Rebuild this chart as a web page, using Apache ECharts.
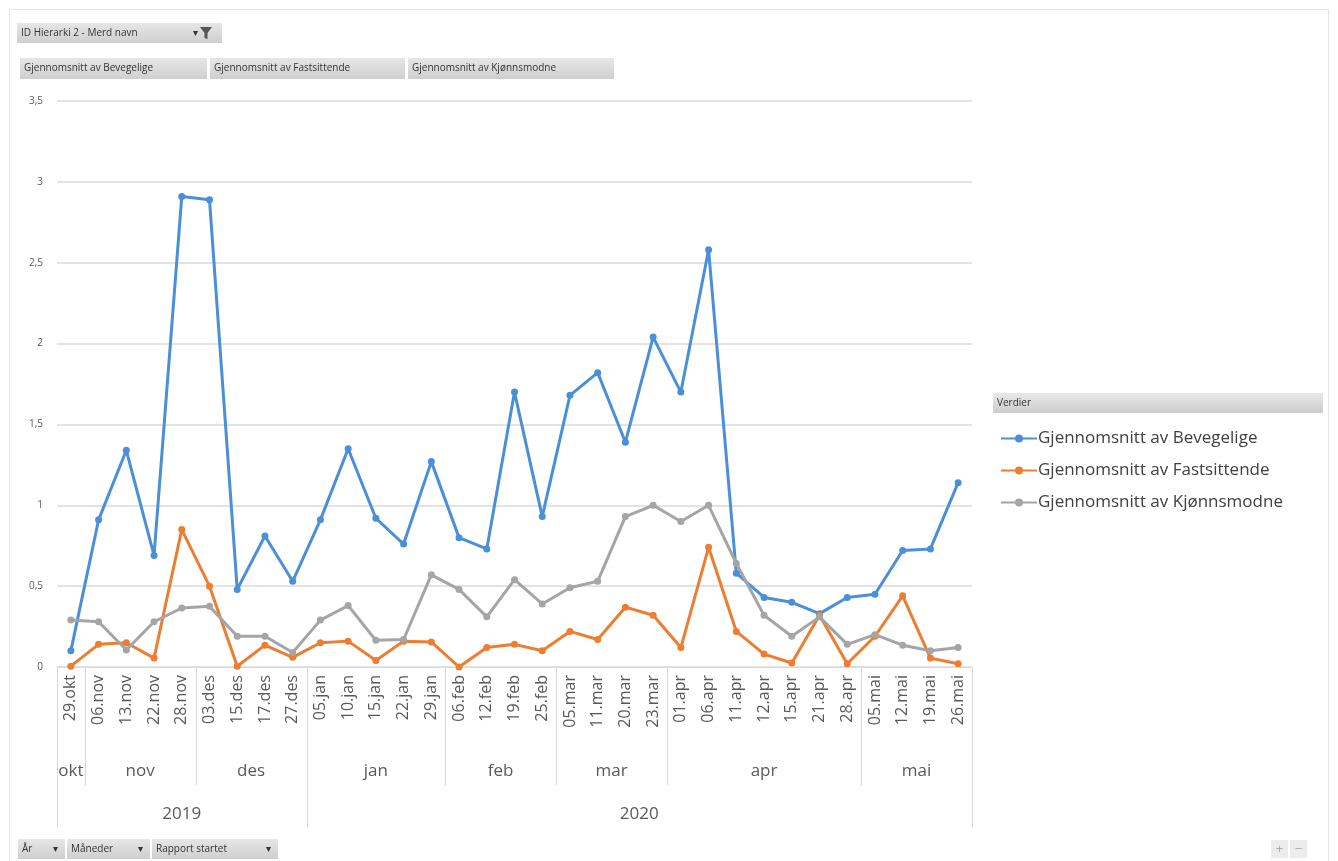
<!DOCTYPE html>
<html>
<head>
<meta charset="utf-8">
<script src="https://cdn.jsdelivr.net/npm/echarts@6/dist/echarts.min.js"></script>
<style>html,body{margin:0;padding:0;background:#fff}#c{width:1338px;height:861px}</style>
</head>
<body>
<div id="c"></div>
<script>
const categories = ['29.okt','06.nov','13.nov','22.nov','28.nov','03.des','15.des','17.des','27.des','05.jan','10.jan','15.jan','22.jan','29.jan','06.feb','12.feb','19.feb','25.feb','05.mar','11.mar','20.mar','23.mar','01.apr','06.apr','11.apr','12.apr','15.apr','21.apr','28.apr','05.mai','12.mai','19.mai','26.mai'];
const monthOfCategory = categories.map(c => c.split('.')[1]);
const monthYear = {okt:'2019', nov:'2019', des:'2019', jan:'2020', feb:'2020', mar:'2020', apr:'2020', mai:'2020'};
const yTicks = [0, 0.5, 1, 1.5, 2, 2.5, 3, 3.5];
const seriesNames = ['Gjennomsnitt av Bevegelige','Gjennomsnitt av Fastsittende','Gjennomsnitt av Kjønnsmodne'];
const bevegelige = [0.10,0.91,1.34,0.69,2.91,2.89,0.48,0.81,0.53,0.91,1.35,0.92,0.76,1.27,0.80,0.73,1.70,0.93,1.68,1.82,1.39,2.04,1.70,2.58,0.58,0.43,0.40,0.33,0.43,0.45,0.72,0.73,1.14];
const fastsittende = [0.005,0.14,0.15,0.055,0.85,0.50,0.005,0.135,0.06,0.15,0.16,0.04,0.16,0.155,0.00,0.12,0.14,0.10,0.22,0.17,0.37,0.32,0.12,0.74,0.22,0.08,0.025,0.32,0.02,0.19,0.44,0.055,0.02];
const kjonnsmodne = [0.29,0.28,0.105,0.28,0.365,0.375,0.19,0.19,0.09,0.29,0.38,0.165,0.17,0.57,0.48,0.31,0.54,0.39,0.49,0.53,0.93,1.00,0.90,1.00,0.64,0.32,0.19,0.31,0.14,0.20,0.135,0.10,0.12];
const seriesData = [bevegelige, fastsittende, kjonnsmodne];
const colors = ['#4a8fd8','#ed7d31','#a5a5a5'];
const topFields = ['Gjennomsnitt av Bevegelige','Gjennomsnitt av Fastsittende','Gjennomsnitt av Kjønnsmodne'];
const bottomFields = ['År','Måneder','Rapport startet'];

const FONT = '"Open Sans", "Noto Sans", sans-serif';
const chart = echarts.init(document.getElementById('c'), null, {renderer:'canvas'});

const option = {
  animation: false,
  backgroundColor: '#fff',
  color: colors,
  grid: {left: 57, right: 366, top: 101, bottom: 194, containLabel: false},
  xAxis: {
    type: 'category', data: categories, boundaryGap: true,
    axisLine: {lineStyle: {color: '#d9d9d9', width: 1}},
    axisTick: {show: false},
    axisLabel: {interval: 0, rotate: 90, color: '#595959', fontSize: 16, fontFamily: FONT, margin: 8}
  },
  yAxis: {
    type: 'value', min: yTicks[0], max: yTicks[yTicks.length - 1], interval: 0.5,
    axisLine: {show: false}, axisTick: {show: false},
    splitLine: {lineStyle: {color: '#e3e3e3', width: 2}},
    axisLabel: {color: '#595959', fontSize: 10, fontFamily: FONT, margin: 14,
      formatter: v => String(v).replace('.', ',')}
  },
  legend: {
    orient: 'vertical', left: 995, top: 425, itemGap: 15,
    itemWidth: 36, itemHeight: 10,
    textStyle: {color: '#404040', fontSize: 17, fontFamily: FONT, padding: [0,0,0,-4]},
    data: seriesNames
  },
  series: seriesNames.map((n, i) => ({
    name: n, type: 'line', data: seriesData[i],
    symbol: 'circle', symbolSize: 7, showSymbol: true,
    lineStyle: {width: 3, color: colors[i]},
    itemStyle: {color: colors[i]}
  }))
};
chart.setOption(option);

function button(x, y, w, h, text) {
  return [{
    type: 'rect', shape: {x: x, y: y, width: w, height: h},
    style: {fill: new echarts.graphic.LinearGradient(0,0,0,1,[{offset:0,color:'#e6e6e6'},{offset:1,color:'#cfcfcf'}])}
  }, {
    type: 'text', x: x + 4, y: y + h/2,
    style: {text: text, fill: '#333', font: '10px ' + FONT, verticalAlign: 'middle'}
  }];
}

function buildGraphic() {
  const g = [];
  g.push({type:'rect', shape:{x:9.5,y:9.5,width:1319,height:860}, style:{fill:'none', stroke:'#e6e6e6', lineWidth:1}});
  g.push(...button(17, 23, 205, 20, 'ID Hierarki 2 - Merd navn'));
  g.push({type:'text', x:193, y:33, style:{text:'▾', fill:'#333', font:'10px ' + FONT, verticalAlign:'middle'}});
  g.push({type:'polygon', shape:{points:[[200,27],[212,27],[207.5,33],[207.5,39],[204.5,38],[204.5,33]]}, style:{fill:'#555'}});
  const tw = [187, 195, 206];
  let tx = 20;
  topFields.forEach((t, i) => { g.push(...button(tx, 58, tw[i], 21, t)); tx += tw[i] + 3; });
  const bw = [47, 83, 126];
  let bx = 18;
  bottomFields.forEach((t, i) => {
    g.push(...button(bx, 839, bw[i], 20, t));
    g.push({type:'text', x: bx + bw[i] - 12, y: 849, style:{text:'▾', fill:'#333', font:'10px ' + FONT, verticalAlign:'middle'}});
    bx += bw[i] + 2;
  });
  g.push({type:'rect', shape:{x:1271,y:840,width:17,height:18}, style:{fill:'#ececec'}});
  g.push({type:'rect', shape:{x:1290,y:840,width:17,height:18}, style:{fill:'#ececec'}});
  g.push({type:'text', x:1279.5, y:849, style:{text:'+', fill:'#aaa', font:'13px ' + FONT, align:'center', verticalAlign:'middle'}});
  g.push({type:'text', x:1298.5, y:849, style:{text:'−', fill:'#aaa', font:'13px ' + FONT, align:'center', verticalAlign:'middle'}});
  g.push({type:'rect', shape:{x:993,y:393,width:330,height:20},
    style:{fill: new echarts.graphic.LinearGradient(0,0,0,1,[{offset:0,color:'#e8e8e8'},{offset:1,color:'#cccccc'}])}});
  g.push({type:'text', x:997, y:403, style:{text:'Verdier', fill:'#333', font:'10px ' + FONT, verticalAlign:'middle'}});

  const axisY = chart.convertToPixel({yAxisIndex:0}, 0);
  const half = (chart.convertToPixel({xAxisIndex:0}, 1) - chart.convertToPixel({xAxisIndex:0}, 0)) / 2;
  const px = i => chart.convertToPixel({xAxisIndex:0}, i);
  const monthBottom = axisY + 118, yearBottom = axisY + 160;
  const lineStyle = {stroke:'#d9d9d9', lineWidth:1};
  let start = 0;
  const groups = [];
  for (let i = 1; i <= categories.length; i++) {
    if (i === categories.length || monthOfCategory[i] !== monthOfCategory[start]) {
      groups.push({name: monthOfCategory[start], s: start, e: i - 1});
      start = i;
    }
  }
  const leftX = Math.round(px(0) - half) + 0.5;
  g.push({type:'line', shape:{x1:leftX,y1:axisY,x2:leftX,y2:yearBottom}, style:lineStyle});
  groups.forEach((gr, k) => {
    const l = px(gr.s) - half, r = px(gr.e) + half;
    const xr = Math.round(r) + 0.5;
    const yearEnd = k === groups.length - 1 || monthYear[groups[k+1].name] !== monthYear[gr.name];
    g.push({type:'line', shape:{x1:xr,y1:axisY,x2:xr,y2: yearEnd ? yearBottom : monthBottom}, style:lineStyle});
    g.push({type:'text', x:(l + r)/2, y: axisY + 104, style:{text: gr.name, fill:'#595959', font:'17px ' + FONT, align:'center', verticalAlign:'middle'}});
  });
  const years = [...new Set(groups.map(gr => monthYear[gr.name]))];
  years.forEach(y => {
    const gs = groups.filter(gr => monthYear[gr.name] === y);
    const l = px(gs[0].s) - half, r = px(gs[gs.length-1].e) + half;
    g.push({type:'text', x:(l + r)/2, y: axisY + 147, style:{text: y, fill:'#595959', font:'17px ' + FONT, align:'center', verticalAlign:'middle'}});
  });
  return g;
}
chart.setOption({graphic: buildGraphic()});
</script>
</body>
</html>
